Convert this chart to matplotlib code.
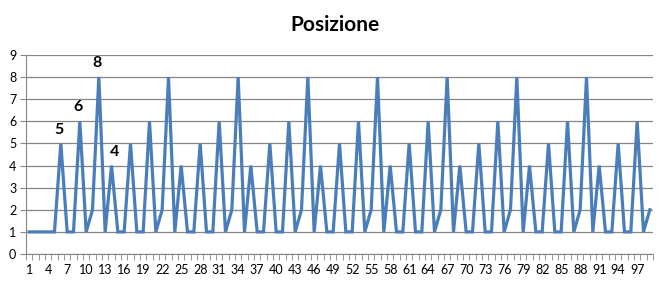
import matplotlib
matplotlib.use("Agg")
import matplotlib.pyplot as plt
import numpy as np

# data: position per step (1..99)
start = [1, 1, 1, 1, 1]
cycle = [5, 1, 1, 6, 1, 2, 8, 1, 4, 1, 1]
tail = [5, 1, 1, 6, 1, 2]
positions = start + cycle * 8 + tail
steps = list(range(1, len(positions) + 1))

labelled_steps = [6, 9, 12, 14]
labelled_text = ["5", "6", "8", "4"]

title = "Posizione"
line_color = "#4A7EBB"
grid_color = "#868686"

plt.rcParams["font.family"] = ["Lato", "DejaVu Sans"]

fig = plt.figure(figsize=(6.72, 2.87), dpi=100)
ax = fig.add_axes([26 / 672, 33 / 287, 627 / 672, 199 / 287])

ax.plot(steps, positions, color=line_color, linewidth=2.3, solid_joinstyle="miter")

for s, t in zip(labelled_steps, labelled_text):
    ax.annotate(t, (s, positions[s - 1]), xytext=(-1 if t != "4" else 2, 5),
                textcoords="offset points", ha="center", va="bottom",
                fontsize=11.5, fontweight="bold", color="black")

ax.set_xlim(0.5, len(steps) + 0.5)
ax.set_ylim(0, 9)
ax.set_yticks(range(0, 10))
ax.set_xticks(steps[::3])
ax.set_xticks(np.arange(0.5, len(steps) + 1, 1), minor=True)
ax.tick_params(axis="x", which="major", length=0, labelsize=9, pad=7)
ax.tick_params(axis="x", which="minor", length=4, color=grid_color, direction="out")
ax.tick_params(axis="y", length=4, color=grid_color, labelsize=9, pad=3)

ax.grid(axis="y", color=grid_color, linewidth=0.9)
ax.set_axisbelow(True)
for side in ["top", "right"]:
    ax.spines[side].set_visible(False)
ax.spines["left"].set_color(grid_color)
ax.spines["bottom"].set_color(grid_color)

fig.text(335 / 672, 1 - 25 / 287, title, ha="center", va="center",
         fontsize=15, fontweight="bold")

fig.savefig("out.png", dpi=100)
